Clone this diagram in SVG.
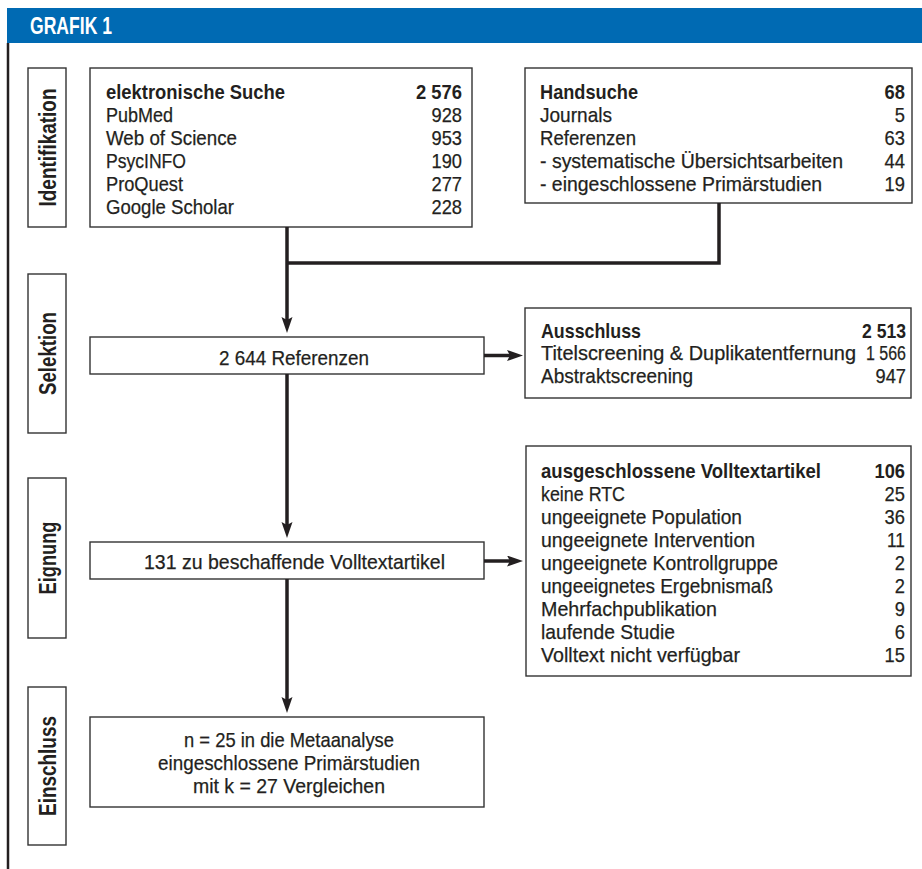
<svg xmlns="http://www.w3.org/2000/svg" width="922" height="869" viewBox="0 0 922 869">
<style>
.t{font-family:"Liberation Sans",Arial,sans-serif;font-size:21px;fill:#231f20;stroke:#231f20;stroke-width:0.25}
.b{font-weight:bold;stroke-width:0}
.e{text-anchor:end}
.m{text-anchor:middle}
.lbl{font-family:"Liberation Sans",Arial,sans-serif;font-size:23px;font-weight:bold;fill:#231f20;text-anchor:middle}
.box{fill:#fff;stroke:#333;stroke-width:1.4}
.conn{stroke:#231f20;stroke-width:3.5;fill:none}
</style>
<defs>
<marker id="ah" markerUnits="userSpaceOnUse" markerWidth="16" markerHeight="12" refX="8" refY="5.5" orient="auto">
<path d="M0,0 L16,5.5 L0,11 L3,5.5 Z" fill="#231f20"/>
</marker>
</defs>
<rect width="922" height="869" fill="#fff"/>
<g id="header">
<rect x="7" y="8" width="915" height="35" fill="#006ab3"/>
<text x="30" y="33.5" style="font-family:'Liberation Sans',Arial,sans-serif;font-size:23px;font-weight:bold;fill:#fff" textLength="82" lengthAdjust="spacingAndGlyphs">GRAFIK 1</text>
</g>
<line x1="8" y1="43" x2="8" y2="869" stroke="#231f20" stroke-width="2.5"/>

<g id="lbl-identifikation">
<rect class="box" x="28" y="68" width="38" height="159"/>
<text class="lbl" x="55.5" y="147.5" transform="rotate(-90 55.5 147.5)" textLength="118" lengthAdjust="spacingAndGlyphs">Identifikation</text>
</g>
<g id="lbl-selektion">
<rect class="box" x="28" y="274" width="38" height="159"/>
<text class="lbl" x="55.5" y="353.5" transform="rotate(-90 55.5 353.5)" textLength="83" lengthAdjust="spacingAndGlyphs">Selektion</text>
</g>
<g id="lbl-eignung">
<rect class="box" x="28" y="478" width="38" height="160"/>
<text class="lbl" x="55.5" y="558" transform="rotate(-90 55.5 558)" textLength="73" lengthAdjust="spacingAndGlyphs">Eignung</text>
</g>
<g id="lbl-einschluss">
<rect class="box" x="28" y="687" width="38" height="158"/>
<text class="lbl" x="55.5" y="766" transform="rotate(-90 55.5 766)" textLength="100" lengthAdjust="spacingAndGlyphs">Einschluss</text>
</g>

<g id="elektronische-suche">
<rect class="box" x="90" y="68" width="382" height="159"/>
<text class="t b" x="106" y="98.5" textLength="179" lengthAdjust="spacingAndGlyphs">elektronische Suche</text>
<text class="t b e" x="462" y="98.5" textLength="46" lengthAdjust="spacingAndGlyphs">2 576</text>
<text class="t" x="106" y="121.5" textLength="67" lengthAdjust="spacingAndGlyphs">PubMed</text>
<text class="t e" x="462" y="121.5" textLength="30.5" lengthAdjust="spacingAndGlyphs">928</text>
<text class="t" x="106" y="144.5" textLength="131" lengthAdjust="spacingAndGlyphs">Web of Science</text>
<text class="t e" x="462" y="144.5" textLength="30.5" lengthAdjust="spacingAndGlyphs">953</text>
<text class="t" x="106" y="167.5" textLength="80" lengthAdjust="spacingAndGlyphs">PsycINFO</text>
<text class="t e" x="462" y="167.5" textLength="30.5" lengthAdjust="spacingAndGlyphs">190</text>
<text class="t" x="106" y="190.5" textLength="77" lengthAdjust="spacingAndGlyphs">ProQuest</text>
<text class="t e" x="462" y="190.5" textLength="30.5" lengthAdjust="spacingAndGlyphs">277</text>
<text class="t" x="106" y="213.5" textLength="128" lengthAdjust="spacingAndGlyphs">Google Scholar</text>
<text class="t e" x="462" y="213.5" textLength="30.5" lengthAdjust="spacingAndGlyphs">228</text>
</g>

<g id="handsuche">
<rect class="box" x="525" y="68" width="387" height="135"/>
<text class="t b" x="540" y="98.5" textLength="98" lengthAdjust="spacingAndGlyphs">Handsuche</text>
<text class="t b e" x="905" y="98.5" textLength="20.4" lengthAdjust="spacingAndGlyphs">68</text>
<text class="t" x="540" y="121.5" textLength="72" lengthAdjust="spacingAndGlyphs">Journals</text>
<text class="t e" x="905" y="121.5" textLength="10.2" lengthAdjust="spacingAndGlyphs">5</text>
<text class="t" x="540" y="144.5" textLength="96" lengthAdjust="spacingAndGlyphs">Referenzen</text>
<text class="t e" x="905" y="144.5" textLength="20.4" lengthAdjust="spacingAndGlyphs">63</text>
<text class="t" x="540" y="167.5" textLength="303" lengthAdjust="spacingAndGlyphs">- systematische Übersichtsarbeiten</text>
<text class="t e" x="905" y="167.5" textLength="20.4" lengthAdjust="spacingAndGlyphs">44</text>
<text class="t" x="540" y="190.5" textLength="282" lengthAdjust="spacingAndGlyphs">- eingeschlossene Primärstudien</text>
<text class="t e" x="905" y="190.5" textLength="20.4" lengthAdjust="spacingAndGlyphs">19</text>
</g>

<g id="referenzen">
<rect class="box" x="90" y="337" width="394" height="37"/>
<text class="t" x="219" y="364.5" textLength="150" lengthAdjust="spacingAndGlyphs">2 644 Referenzen</text>
</g>

<g id="ausschluss">
<rect class="box" x="525" y="308" width="386" height="90"/>
<text class="t b" x="541" y="337.5" textLength="100" lengthAdjust="spacingAndGlyphs">Ausschluss</text>
<text class="t b e" x="906" y="337.5" textLength="44" lengthAdjust="spacingAndGlyphs">2 513</text>
<text class="t" x="541" y="360" style="font-size:20px" textLength="315" lengthAdjust="spacingAndGlyphs">Titelscreening &amp; Duplikatentfernung</text>
<text class="t e" x="906" y="360" style="font-size:20px" textLength="40" lengthAdjust="spacingAndGlyphs">1 566</text>
<text class="t" x="541" y="382.5" textLength="152" lengthAdjust="spacingAndGlyphs">Abstraktscreening</text>
<text class="t e" x="906" y="382.5" textLength="30.5" lengthAdjust="spacingAndGlyphs">947</text>
</g>

<g id="volltextartikel">
<rect class="box" x="90" y="542" width="394" height="37"/>
<text class="t" x="144" y="568.5" textLength="301" lengthAdjust="spacingAndGlyphs">131 zu beschaffende Volltextartikel</text>
</g>

<g id="ausgeschlossene">
<rect class="box" x="526" y="446" width="385" height="230"/>
<text class="t b" x="541" y="477.5" textLength="280" lengthAdjust="spacingAndGlyphs">ausgeschlossene Volltextartikel</text>
<text class="t b e" x="905" y="477.5" textLength="30.5" lengthAdjust="spacingAndGlyphs">106</text>
<text class="t" x="541" y="500.5" textLength="84" lengthAdjust="spacingAndGlyphs">keine RTC</text>
<text class="t e" x="905" y="500.5" textLength="20.4" lengthAdjust="spacingAndGlyphs">25</text>
<text class="t" x="541" y="523.5" textLength="201" lengthAdjust="spacingAndGlyphs">ungeeignete Population</text>
<text class="t e" x="905" y="523.5" textLength="20.4" lengthAdjust="spacingAndGlyphs">36</text>
<text class="t" x="541" y="546.5" textLength="214" lengthAdjust="spacingAndGlyphs">ungeeignete Intervention</text>
<text class="t e" x="905" y="546.5" textLength="18" lengthAdjust="spacingAndGlyphs">11</text>
<text class="t" x="541" y="569.5" textLength="237" lengthAdjust="spacingAndGlyphs">ungeeignete Kontrollgruppe</text>
<text class="t e" x="905" y="569.5" textLength="10.2" lengthAdjust="spacingAndGlyphs">2</text>
<text class="t" x="541" y="592.5" textLength="232" lengthAdjust="spacingAndGlyphs">ungeeignetes Ergebnismaß</text>
<text class="t e" x="905" y="592.5" textLength="10.2" lengthAdjust="spacingAndGlyphs">2</text>
<text class="t" x="541" y="615.5" textLength="176" lengthAdjust="spacingAndGlyphs">Mehrfachpublikation</text>
<text class="t e" x="905" y="615.5" textLength="10.2" lengthAdjust="spacingAndGlyphs">9</text>
<text class="t" x="541" y="638.5" textLength="134" lengthAdjust="spacingAndGlyphs">laufende Studie</text>
<text class="t e" x="905" y="638.5" textLength="10.2" lengthAdjust="spacingAndGlyphs">6</text>
<text class="t" x="541" y="661.5" textLength="199" lengthAdjust="spacingAndGlyphs">Volltext nicht verfügbar</text>
<text class="t e" x="905" y="661.5" textLength="20.4" lengthAdjust="spacingAndGlyphs">15</text>
</g>

<g id="eingeschlossen">
<rect class="box" x="90" y="717" width="394" height="90"/>
<text class="t m" x="289" y="746.5" textLength="210" lengthAdjust="spacingAndGlyphs">n = 25 in die Metaanalyse</text>
<text class="t m" x="289" y="769.5" textLength="262" lengthAdjust="spacingAndGlyphs">eingeschlossene Primärstudien</text>
<text class="t m" x="289" y="792.5" textLength="192" lengthAdjust="spacingAndGlyphs">mit k = 27 Vergleichen</text>
</g>

<g id="connectors">
<path class="conn" d="M719,203 V263 H287"/>
<path class="conn" d="M287,227 V325" marker-end="url(#ah)"/>
<path class="conn" d="M287,374 V530" marker-end="url(#ah)"/>
<path class="conn" d="M287,579 V705" marker-end="url(#ah)"/>
<path class="conn" d="M484,355.5 H515" marker-end="url(#ah)"/>
<path class="conn" d="M484,561 H515" marker-end="url(#ah)"/>
</g>
</svg>
